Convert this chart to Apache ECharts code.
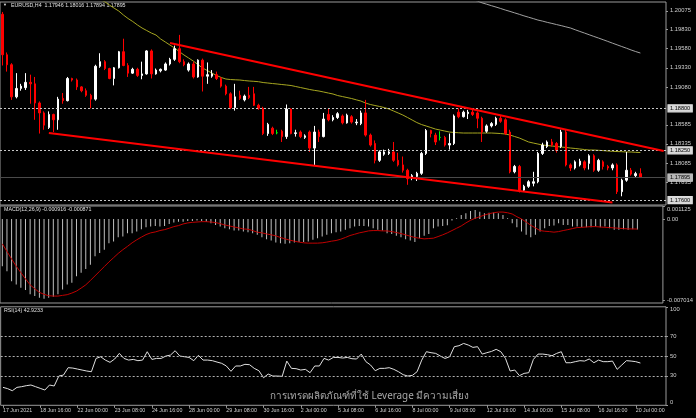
<!DOCTYPE html>
<html><head><meta charset="utf-8">
<script src="https://cdn.jsdelivr.net/npm/echarts@6/dist/echarts.min.js"></script>
<style>html,body{margin:0;padding:0;background:#000;overflow:hidden}#c{width:696px;height:418px}</style>
</head><body><div id="c"></div><script>
// ---- data (EURUSD H4, bar 0 = 17 Jun 2021 08:00) ----
const opens=[1.2003,1.1950,1.1937,1.1895,1.1906,1.1907,1.1914,1.1912,1.1887,1.1874,
1.1855,1.1872,1.1865,1.1893,1.1890,1.1919,1.1917,1.1908,1.1903,1.1897,
1.1892,1.1935,1.1941,1.1932,1.1919,1.1933,1.1954,1.1936,1.1926,1.1931,
1.1923,1.1925,1.1955,1.1925,1.1929,1.1930,1.1938,1.1944,1.1958,1.1941,
1.1930,1.1938,1.1921,1.1943,1.1922,1.1922,1.1924,1.1919,1.1909,1.1899,
1.1881,1.1897,1.1891,1.1897,1.1899,1.1884,1.1880,1.1847,1.1854,1.1848,
1.1850,1.1843,1.1879,1.1847,1.1849,1.1842,1.1849,1.1828,1.1849,1.1843,
1.1872,1.1865,1.1868,1.1870,1.1861,1.1869,1.1861,1.1860,1.1874,1.1845,
1.1834,1.1812,1.1820,1.1821,1.1823,1.1812,1.1806,1.1799,1.1789,1.1791,
1.1795,1.1821,1.1851,1.1845,1.1842,1.1842,1.1832,1.1834,1.1875,1.1869,
1.1873,1.1875,1.1874,1.1867,1.1850,1.1857,1.1859,1.1867,1.1865,1.1849,
1.1797,1.1804,1.1773,1.1778,1.1782,1.1784,1.1821,1.1830,1.1836,1.1834,
1.1830,1.1849,1.1806,1.1802,1.1806,1.1810,1.1808,1.1818,1.1799,1.1810,
1.1804,1.1802,1.1806,1.1771,1.1786,1.1799,1.1792,1.17946];
const highs=[1.2006,1.1953,1.1939,1.1926,1.1912,1.1926,1.1924,1.1921,1.1889,1.1876,
1.1876,1.1873,1.1895,1.1900,1.1921,1.1920,1.1919,1.1909,1.1906,1.1899,
1.1937,1.1952,1.1943,1.1933,1.1934,1.1955,1.1971,1.1939,1.1933,1.1933,
1.1941,1.1956,1.1957,1.1932,1.1932,1.1940,1.1946,1.1962,1.1976,1.1944,
1.1940,1.1941,1.1944,1.1945,1.1940,1.1930,1.1928,1.1921,1.1911,1.1901,
1.1912,1.1903,1.1898,1.1908,1.1908,1.1886,1.1882,1.1861,1.1856,1.1852,
1.1852,1.1885,1.1880,1.1852,1.1851,1.1846,1.1851,1.1857,1.1852,1.1874,
1.1880,1.1871,1.1875,1.1872,1.1873,1.1871,1.1866,1.1877,1.1891,1.1847,
1.1838,1.1825,1.1826,1.1827,1.1836,1.1822,1.1817,1.1801,1.1794,1.1797,
1.1823,1.1853,1.1852,1.1848,1.1850,1.1844,1.1847,1.1872,1.1880,1.1877,
1.1878,1.1879,1.1876,1.1869,1.1859,1.1862,1.1869,1.1870,1.1867,1.1852,
1.1806,1.1806,1.1780,1.1786,1.1797,1.1823,1.1835,1.1838,1.1840,1.1836,
1.1852,1.1852,1.1808,1.1812,1.1814,1.1812,1.1820,1.1820,1.1814,1.1812,
1.1806,1.1808,1.1808,1.1788,1.1823,1.1802,1.1797,1.18016];
const lows=[1.1936,1.1928,1.1891,1.1893,1.1903,1.1904,1.1886,1.1865,1.1847,1.1852,
1.1853,1.1849,1.1852,1.1886,1.1889,1.1915,1.1904,1.1901,1.1895,1.1880,
1.1890,1.1933,1.1930,1.1918,1.1910,1.1932,1.1935,1.1921,1.1925,1.1921,
1.1918,1.1924,1.1919,1.1924,1.1927,1.1929,1.1936,1.1942,1.1939,1.1935,
1.1928,1.1919,1.1920,1.1902,1.1912,1.1920,1.1917,1.1907,1.1897,1.1879,
1.1877,1.1891,1.1889,1.1892,1.1883,1.1878,1.1845,1.1844,1.1845,1.1846,
1.1836,1.1840,1.1846,1.1843,1.1841,1.1840,1.1823,1.1806,1.1836,1.1842,
1.1863,1.1863,1.1866,1.1859,1.1860,1.1860,1.1858,1.1858,1.1843,1.1830,
1.1808,1.1810,1.1818,1.1819,1.1810,1.1804,1.1796,1.1780,1.1786,1.1785,
1.1793,1.1819,1.1842,1.1832,1.1838,1.1830,1.1826,1.1832,1.1867,1.1868,
1.1866,1.1870,1.1854,1.1836,1.1848,1.1855,1.1857,1.1861,1.1845,1.1795,
1.1795,1.1770,1.1771,1.1776,1.1778,1.1782,1.1819,1.1828,1.1830,1.1822,
1.1828,1.1804,1.1798,1.1800,1.1804,1.1799,1.1800,1.1797,1.1797,1.1800,
1.1799,1.1799,1.1768,1.1765,1.1784,1.1792,1.1790,1.17894];
const closes=[1.1950,1.1937,1.1895,1.1906,1.1909,1.1914,1.1912,1.1887,1.1874,1.1858,
1.1872,1.1865,1.1892,1.1890,1.1919,1.1917,1.1908,1.1903,1.1897,1.1892,
1.1935,1.1941,1.1932,1.1919,1.1933,1.1954,1.1936,1.1926,1.1931,1.1923,
1.1925,1.1955,1.1925,1.1930,1.1931,1.1938,1.1944,1.1958,1.1941,1.1937,
1.1938,1.1921,1.1943,1.1922,1.1924,1.1925,1.1919,1.1909,1.1899,1.1881,
1.1895,1.1893,1.1896,1.1894,1.1884,1.1880,1.1847,1.1859,1.1847,1.1848,
1.1843,1.1879,1.1847,1.1848,1.1843,1.1844,1.1828,1.1849,1.1843,1.1866,
1.1865,1.1868,1.1873,1.1861,1.1871,1.1862,1.1862,1.1874,1.1845,1.1832,
1.1812,1.1823,1.1823,1.1823,1.1812,1.1806,1.1799,1.1788,1.1792,1.1795,
1.1821,1.1851,1.1847,1.1836,1.1842,1.1832,1.1834,1.1870,1.1869,1.1875,
1.1875,1.1872,1.1867,1.1849,1.1857,1.1860,1.1867,1.1863,1.1847,1.1797,
1.1804,1.1773,1.1778,1.1784,1.1784,1.1821,1.1832,1.1836,1.1832,1.1825,
1.1849,1.1806,1.1802,1.1810,1.1811,1.1802,1.1818,1.1799,1.1812,1.1804,
1.1802,1.1806,1.1771,1.1786,1.1799,1.1794,1.17946,1.17895];
const maYellow=[null,null,null,null,null,null,null,null,null,null,
null,null,null,null,null,null,null,null,null,1.2030,
1.2026,1.2022,1.20194,1.2015,1.2011,1.20072,1.2002,1.19974,1.19935,1.1989,
1.1985,1.19817,1.19784,1.19758,1.19706,1.19667,1.19627,1.19588,1.19542,1.19497,
1.19458,1.19418,1.19373,1.19327,1.19294,1.19261,1.19229,1.19203,1.19183,1.19176,
1.19173,1.1917,1.19163,1.19157,1.19153,1.19148,1.19137,1.19131,1.19124,1.19118,
1.19111,1.19105,1.19098,1.19085,1.19072,1.19059,1.19046,1.19035,1.19026,1.19013,
1.19,1.18987,1.18967,1.18954,1.18941,1.18928,1.18911,1.18895,1.18869,1.1885,
1.18837,1.18824,1.1881,1.18791,1.18765,1.18739,1.18712,1.1868,1.18647,1.18614,
1.18588,1.18569,1.18549,1.18529,1.18516,1.18503,1.1849,1.18484,1.1848,1.18477,
1.18477,1.18477,1.18477,1.18477,1.18477,1.18477,1.18474,1.1847,1.18464,1.18451,
1.18431,1.18412,1.18386,1.1836,1.18346,1.18333,1.1832,1.18314,1.18307,1.18301,
1.18294,1.18288,1.18281,1.18275,1.18268,1.18261,1.18255,1.18255,1.18251,1.18247,
1.18242,1.18238,1.18235,1.18233,1.18229,1.18229,1.18225,1.18222];
const maGray=[null,null,null,null,null,null,null,null,null,null,
null,null,null,null,null,null,null,null,null,null,
null,null,null,null,null,null,null,null,null,null,
null,null,null,null,null,null,null,null,null,null,
null,null,null,null,null,null,null,null,null,null,
null,null,null,null,null,null,null,null,null,null,
null,null,null,null,null,null,null,null,null,null,
null,null,null,null,null,null,null,null,null,null,
null,null,null,null,null,null,null,null,null,null,
null,null,null,null,null,null,null,null,null,null,
null,1.2022,1.20203,1.20179,1.20161,1.20142,1.20124,1.20105,1.20085,1.20067,
1.20048,1.20029,1.20009,1.19991,1.19973,1.19954,1.1994,1.19924,1.1991,1.19895,
1.19881,1.19865,1.1985,1.19827,1.19805,1.19784,1.19762,1.1974,1.19719,1.19697,
1.19675,1.19652,1.1963,1.19608,1.19586,1.19563,1.19542,1.19523];
const macdMain=[-0.00409,-0.00452,-0.00538,-0.00567,-0.00595,-0.00615,-0.00652,-0.00667,-0.00681,-0.00690,
-0.00681,-0.00673,-0.00652,-0.00610,-0.00567,-0.00552,-0.00495,-0.00466,-0.00432,-0.00395,
-0.00323,-0.00295,-0.00266,-0.00209,-0.00195,-0.00157,-0.00152,-0.00123,-0.00123,-0.00109,
-0.00089,-0.00072,-0.00066,-0.00060,-0.00066,-0.00060,-0.00043,-0.00031,-0.00023,-0.00023,
-0.00017,-0.00017,-0.00014,-0.00017,-0.00023,-0.00037,-0.00052,-0.00066,-0.00080,-0.00089,
-0.00100,-0.00100,-0.00109,-0.00114,-0.00123,-0.00137,-0.00157,-0.00175,-0.00186,-0.00203,
-0.00209,-0.00215,-0.00209,-0.00203,-0.00200,-0.00200,-0.00195,-0.00180,-0.00166,-0.00152,
-0.00137,-0.00123,-0.00114,-0.00109,-0.00094,-0.00080,-0.00066,-0.00060,-0.00060,-0.00066,
-0.00080,-0.00094,-0.00100,-0.00123,-0.00129,-0.00146,-0.00157,-0.00175,-0.00186,-0.00200,
-0.00166,-0.00146,-0.00129,-0.00080,-0.00066,-0.00060,-0.00054,-0.00014,0.00006,0.00034,
0.00049,0.00069,0.00077,0.00063,0.00049,0.00054,0.00057,0.00049,0.00034,0.00006,
-0.00037,-0.00072,-0.00109,-0.00137,-0.00157,-0.00137,-0.00109,-0.00080,-0.00060,-0.00057,
-0.00037,-0.00052,-0.00052,-0.00066,-0.00066,-0.00072,-0.00072,-0.00072,-0.00066,-0.00072,
-0.00066,-0.00080,-0.00094,-0.00094,-0.00089,-0.00094,-0.00089,-0.000916];
const macdSignal=[-0.00215,-0.00281,-0.00346,-0.00409,-0.00464,-0.00518,-0.00570,-0.00604,-0.00635,-0.00652,
-0.00664,-0.00667,-0.00667,-0.00661,-0.00655,-0.00641,-0.00624,-0.00598,-0.00570,-0.00532,
-0.00492,-0.00452,-0.00412,-0.00372,-0.00335,-0.00298,-0.00266,-0.00237,-0.00206,-0.00180,
-0.00157,-0.00135,-0.00120,-0.00112,-0.00100,-0.00092,-0.00080,-0.00066,-0.00057,-0.00043,
-0.00034,-0.00029,-0.00026,-0.00023,-0.00023,-0.00026,-0.00031,-0.00040,-0.00052,-0.00060,
-0.00069,-0.00077,-0.00086,-0.00089,-0.00100,-0.00114,-0.00120,-0.00129,-0.00137,-0.00146,
-0.00160,-0.00172,-0.00183,-0.00192,-0.00200,-0.00206,-0.00209,-0.00209,-0.00209,-0.00206,
-0.00200,-0.00192,-0.00186,-0.00175,-0.00160,-0.00143,-0.00132,-0.00120,-0.00112,-0.00103,
-0.00100,-0.00100,-0.00103,-0.00103,-0.00109,-0.00117,-0.00126,-0.00137,-0.00149,-0.00160,
-0.00166,-0.00172,-0.00169,-0.00166,-0.00152,-0.00137,-0.00120,-0.00100,-0.00080,-0.00060,
-0.00034,-0.00011,0.00006,0.00020,0.00034,0.00046,0.00054,0.00060,0.00060,0.00054,
0.00043,0.00020,0.00000,-0.00026,-0.00054,-0.00077,-0.00100,-0.00106,-0.00109,-0.00114,
-0.00109,-0.00100,-0.00092,-0.00083,-0.00074,-0.00072,-0.00069,-0.00066,-0.00066,-0.00069,
-0.00072,-0.00074,-0.00077,-0.00080,-0.00083,-0.00086,-0.00086,-0.000871];
const rsi14=[18.2,16.9,14.8,18.2,18.9,19.9,20.6,18.9,17.2,15.5,
20.6,19.6,29.7,30.7,38.2,37.8,36.8,35.8,34.8,34.1,
47.6,49.3,45.9,43.6,47.0,52.7,47.6,45.9,46.6,45.3,
45.9,54.4,46.6,47.6,47.6,50.0,51.0,55.4,50.0,49.3,
48.6,45.3,50.7,45.9,45.9,45.3,43.9,42.6,39.9,34.5,
39.9,39.9,41.6,41.2,37.5,35.1,28.0,31.7,29.7,29.7,
29.4,44.9,37.5,37.2,35.8,36.5,33.1,39.9,39.9,47.6,
45.9,48.6,48.6,48.0,48.6,47.3,47.0,52.0,44.3,40.9,
35.1,37.5,37.5,38.2,36.5,34.1,31.1,29.7,30.4,34.1,
45.9,54.4,53.4,52.7,50.0,47.6,49.3,59.5,60.5,62.8,
61.2,58.8,59.5,52.0,53.4,54.7,56.8,54.4,47.6,34.8,
35.8,30.1,32.4,33.1,46.6,52.0,52.0,51.4,50.3,52.7,
54.4,43.2,43.2,44.3,45.3,44.9,47.0,43.2,45.9,44.3,
44.3,44.9,36.5,40.9,45.3,44.9,44.3,42.9233];
const xTickLabels=['17 Jun 2021','18 Jun 16:00','22 Jun 00:00','23 Jun 08:00','24 Jun 16:00','28 Jun 00:00',
'29 Jun 08:00','30 Jun 16:00','2 Jul 00:00','5 Jul 08:00','6 Jul 16:00','8 Jul 00:00','9 Jul 08:00',
'12 Jul 16:00','14 Jul 00:00','15 Jul 08:00','16 Jul 16:00','20 Jul 00:00'];
const priceTicks=[1.17835,1.18085,1.18335,1.18585,1.19080,1.19330,1.19580,1.19830,1.20075];
const macdTicks=[0.001125,0,-0.007014];
const rsiTicks=[0,30,50,70,100];
const rsiLevels=[70,50,30];
const dashedLevels=[1.18800,1.18250,1.17600];
const bidPrice=1.17895;
const trendLines=[[[36,1.19654],[142,1.18242]],[[10,1.18476],[131,1.17569]]];
const title='EURUSD,H4  1.17946 1.18016 1.17894 1.17895';
const macdTitle='MACD(12,26,9) -0.000916 -0.000871';
const rsiTitle='RSI(14) 42.9233';
const watermark='การเทรดผลิตภัณฑ์ที่ใช้ Leverage มีความเสี่ยง';

// ---- chart ----
const N=143, STEP=8;
const cats=Array.from({length:N},(_,i)=>i);
const candles=opens.map((o,i)=>[o,closes[i],lows[i],highs[i]]);
const FONT='Liberation Sans';
const TXT='#d0d0d0';
const FRAME='#9a9a9a';
const W=666;
const gridBase={left:0,width:W,show:true,borderColor:FRAME,borderWidth:1,backgroundColor:'#000'};
const hiddenX=g=>({type:'category',gridIndex:g,data:cats,boundaryGap:true,axisLine:{show:false},axisTick:{show:false},axisLabel:{show:false},splitLine:{show:false}});
const boxLabel=(txt,bg,fg)=>({show:true,position:'end',formatter:txt,backgroundColor:bg,color:fg,padding:[1,2,0,2],fontSize:5.6,fontFamily:FONT,distance:2,borderColor:'#e0e0e0',borderWidth:0.6});
const chart=echarts.init(document.getElementById('c'),null,{renderer:'canvas',width:696,height:418});
chart.setOption({
  backgroundColor:'#000',animation:false,
  grid:[Object.assign({top:2,height:203},gridBase),Object.assign({top:206,height:97},gridBase),Object.assign({top:306.8,height:98.5},gridBase)],
  xAxis:[hiddenX(0),hiddenX(1),Object.assign(hiddenX(2),{
    axisTick:{show:true,alignWithLabel:true,interval:i=>i%STEP===0,length:2.5,lineStyle:{color:FRAME}},
    axisLabel:{show:true,interval:i=>i%STEP===0,formatter:(v,i)=>xTickLabels[i/STEP]||'',align:'left',color:TXT,fontSize:5.3,fontFamily:FONT,margin:3}
  })],
  yAxis:[
    {type:'value',gridIndex:0,position:'right',min:1.17536,max:1.20190,splitLine:{show:false},axisLine:{show:false},
     axisTick:{show:true,customValues:priceTicks,length:2,lineStyle:{color:FRAME}},
     axisLabel:{customValues:priceTicks,formatter:v=>v.toFixed(5),color:TXT,fontSize:5.8,fontFamily:FONT,margin:4}},
    {type:'value',gridIndex:1,position:'right',min:-0.00727,max:0.001125,splitLine:{show:false},axisLine:{show:false},
     axisTick:{show:true,customValues:macdTicks,length:2,lineStyle:{color:FRAME}},
     axisLabel:{customValues:macdTicks,formatter:v=>v===0?'0.00':(v>0?'{t|'+v.toFixed(6)+'}':v.toFixed(6)),color:TXT,fontSize:5.8,fontFamily:FONT,margin:4,
       rich:{t:{padding:[6,0,0,0],fontSize:5.8,fontFamily:FONT,color:TXT}}}},
    {type:'value',gridIndex:2,position:'right',min:0,max:100,splitLine:{show:false},axisLine:{show:false},
     axisTick:{show:true,customValues:rsiTicks,length:2,lineStyle:{color:FRAME}},
     axisLabel:{customValues:rsiTicks,formatter:v=>v===100?'{t|100}':(v===0?'{b|0}':String(v)),color:TXT,fontSize:5.8,fontFamily:FONT,margin:4,
       rich:{t:{padding:[6,0,0,0],fontSize:5.8,fontFamily:FONT,color:TXT},b:{padding:[0,0,6,0],fontSize:5.8,fontFamily:FONT,color:TXT}}}}
  ],
  series:[
    {type:'candlestick',xAxisIndex:0,yAxisIndex:0,data:candles,barWidth:2,
     itemStyle:{color:'#ffffff',color0:'#ff0000',borderColor:'#ffffff',borderColor0:'#ff0000',borderColorDoji:'#00ff00',borderWidth:1},
     markLine:{silent:true,symbol:'none',animation:false,precision:5,
       data:[
         ...dashedLevels.map(v=>({yAxis:v,lineStyle:{type:[2,2],color:'#c8c8c8',width:1},label:boxLabel(v.toFixed(5),'#d8d8d8','#000')})),
         {yAxis:bidPrice,lineStyle:{type:'solid',color:'#4a4a4a',width:1},label:boxLabel(bidPrice.toFixed(5),'#b8b8b8','#000')},
         ...trendLines.map(t=>[{coord:t[0],lineStyle:{type:'solid',color:'#ff0000',width:2},label:{show:false}},{coord:t[1]}])
       ]}},
    {type:'line',xAxisIndex:0,yAxisIndex:0,data:maYellow,symbol:'none',lineStyle:{color:'#a6a620',width:1},clip:true,z:1},
    {type:'line',xAxisIndex:0,yAxisIndex:0,data:maGray,symbol:'none',lineStyle:{color:'#a0a0a0',width:1},clip:true,z:1},
    {type:'bar',xAxisIndex:1,yAxisIndex:1,data:macdMain,barWidth:1,itemStyle:{color:'#c0c0c0'}},
    {type:'line',xAxisIndex:1,yAxisIndex:1,data:macdSignal,symbol:'none',lineStyle:{color:'#c00000',width:1}},
    {type:'line',xAxisIndex:2,yAxisIndex:2,data:rsi14,symbol:'none',lineStyle:{color:'#e0e0e0',width:1},
     markLine:{silent:true,symbol:'none',precision:2,label:{show:false},lineStyle:{type:[2,2],color:'#b0b0b0',width:1},data:rsiLevels.map(v=>({yAxis:v}))}}
  ],
  graphic:[
    {type:'text',left:3,top:3,style:{text:'▼',fill:'#e0e0e0',font:'4px '+FONT}},
    {type:'text',left:11,top:3.5,style:{text:title,fill:'#e0e0e0',font:'5.3px '+FONT}},
    {type:'text',left:4,top:207.5,style:{text:macdTitle,fill:'#e0e0e0',font:'5.3px '+FONT}},
    {type:'text',left:4,top:308.5,style:{text:rsiTitle,fill:'#e0e0e0',font:'5.3px '+FONT}},
    {type:'text',left:270,top:391.5,style:{text:watermark,fill:'#a8a8a8',font:'9.9px "Noto Sans", "DejaVu Sans", sans-serif'}}
  ]
});
</script></body></html>
